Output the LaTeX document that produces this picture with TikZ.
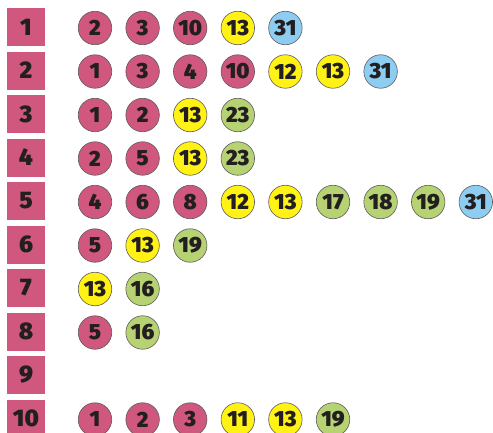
\documentclass[tikz,border=0pt]{standalone}
\usepackage{fontspec}
\setsansfont{Fira Sans}[BoldFont={Fira Sans Black}]
\usepackage{tikz}
\usetikzlibrary{positioning}
\definecolor{grInk}{HTML}{231F20}
\definecolor{grRim}{HTML}{5E5A5C}
\definecolor{nbp}{HTML}{D0587F}
\definecolor{nby}{HTML}{FFF214}
\definecolor{nbg}{HTML}{B6D272}
\definecolor{nbb}{HTML}{8ECDF2}
\tikzset{
  gr diagram/.style={font=\sffamily\bfseries, text=grInk},
  gr vertex/.style={fill=nbp, minimum size=38pt, inner sep=0pt,
    font=\sffamily\bfseries\fontsize{24}{24}\selectfont},
  gr nb/.style={circle, draw=grRim, line width=0.6pt, minimum size=33.5pt,
    inner sep=0pt, font=\sffamily\bfseries\fontsize{22}{22}\selectfont}
}
\begin{document}
\begin{tikzpicture}[gr diagram,x=1pt,y=-1pt]
\useasboundingbox (0,0) rectangle (493,432);
% vertices
\foreach \r in {1,...,10}
  \node[gr vertex] (v\r) at (26,{27+43.5*(\r-1)}) {\r};
% neighbours of each vertex (row 9 has none)
\foreach \r/\nbs in {1/{2/p,3/p,10/p,13/y,31/b},
    2/{1/p,3/p,4/p,10/p,12/y,13/y,31/b},
    3/{1/p,2/p,13/y,23/g},
    4/{2/p,5/p,13/y,23/g},
    5/{4/p,6/p,8/p,12/y,13/y,17/g,18/g,19/g,31/b},
    6/{5/p,13/y,19/g},
    7/{13/y,16/g},
    8/{5/p,16/g},
    10/{1/p,2/p,3/p,11/y,13/y,19/g}}
  \foreach \n/\c [count=\k] in \nbs
    \node[gr nb, fill=nb\c] (v\r-\k) at ({95+47.6*(\k-1)},{28+43.5*(\r-1)}) {\n};
\end{tikzpicture}
\end{document}
